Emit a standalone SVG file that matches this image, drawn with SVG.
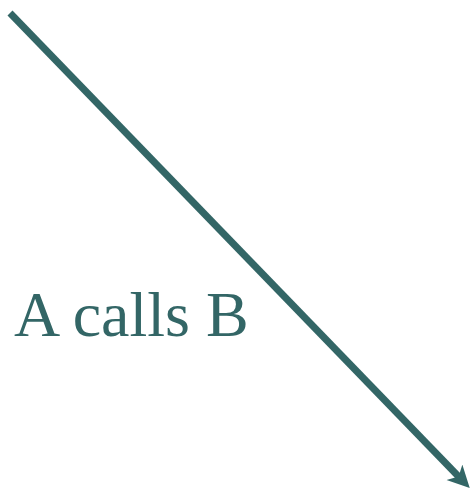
<svg xmlns="http://www.w3.org/2000/svg" width="471" height="491" viewBox="0 0 471 491">
<style>
.edge{stroke:#336666;stroke-width:7;fill:none}
.lbl{font-family:"Liberation Serif",serif;font-size:64px;fill:#336666}
</style>
<defs>
<marker id="ah" markerUnits="userSpaceOnUse" markerWidth="30" markerHeight="30" refX="8" refY="11" orient="auto">
<path d="M0,0 L22,11 L0,22 L6,11 Z" fill="#336666"/>
</marker>
</defs>
<g id="connectors">
<path class="edge" d="M10,13 L460,478" marker-end="url(#ah)"/>
</g>
<g id="label">
<text class="lbl" x="14" y="336">A calls B</text>
</g>
</svg>
